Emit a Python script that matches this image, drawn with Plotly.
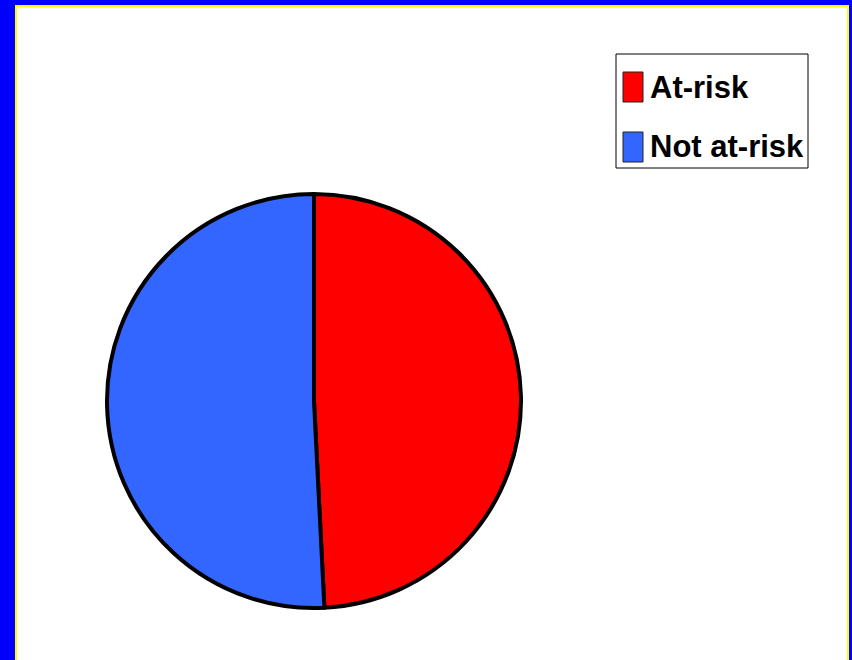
import plotly.graph_objects as go

labels = ["At-risk", "Not at-risk"]
values = [49.2, 50.8]
colors = ["#FF0000", "#3366FF"]

W, H = 852, 660

def px_x(p):
    return p / W

def px_y(p):
    return 1 - p / H

fig = go.Figure(go.Pie(
    labels=labels,
    values=values,
    sort=False,
    direction="clockwise",
    rotation=0,
    textinfo="none",
    hoverinfo="label+percent",
    showlegend=False,
    marker=dict(colors=colors, line=dict(color="black", width=4)),
    domain=dict(x=[px_x(105), px_x(523)], y=[px_y(608), px_y(194)]),
))

shapes = []
for x0, x1, y0, y1, c in [
    (0, 15, 0, H, "#0000FF"),
    (0, W, 0, 5, "#0000FF"),
    (849, W, 0, H, "#0000FF"),
    (15, 17, 5, H, "#FFFF00"),
    (15, 849, 5, 7, "#FFFF00"),
    (847, 849, 5, H, "#FFFF00"),
]:
    shapes.append(dict(type="rect", xref="paper", yref="paper",
                       x0=px_x(x0), x1=px_x(x1), y0=px_y(y1), y1=px_y(y0),
                       fillcolor=c, line=dict(width=0), layer="below"))

# legend box (manual, to match swatch size and spacing)
shapes.append(dict(type="rect", xref="paper", yref="paper",
                   x0=px_x(616), x1=px_x(808), y0=px_y(168), y1=px_y(54),
                   fillcolor="white", line=dict(color="black", width=1), layer="above"))
annotations = []
row_tops = [72, 132]
for lab, col, top in zip(labels, colors, row_tops):
    shapes.append(dict(type="rect", xref="paper", yref="paper",
                       x0=px_x(623), x1=px_x(643), y0=px_y(top + 30), y1=px_y(top),
                       fillcolor=col, line=dict(color="#222222", width=1), layer="above"))
    annotations.append(dict(xref="paper", yref="paper", x=px_x(648), y=px_y(top + 15),
                            xanchor="left", yanchor="middle", showarrow=False,
                            text="<b>" + lab + "</b>",
                            font=dict(family="Liberation Sans, Arial", size=31, color="black")))

fig.update_layout(
    width=W, height=H,
    margin=dict(l=0, r=0, t=0, b=0),
    paper_bgcolor="white",
    plot_bgcolor="white",
    shapes=shapes,
    annotations=annotations,
    showlegend=False,
)

fig.write_html("out.html", config={"displayModeBar": False},
               post_script="document.body.style.margin='0px';document.body.style.overflow='hidden';")
